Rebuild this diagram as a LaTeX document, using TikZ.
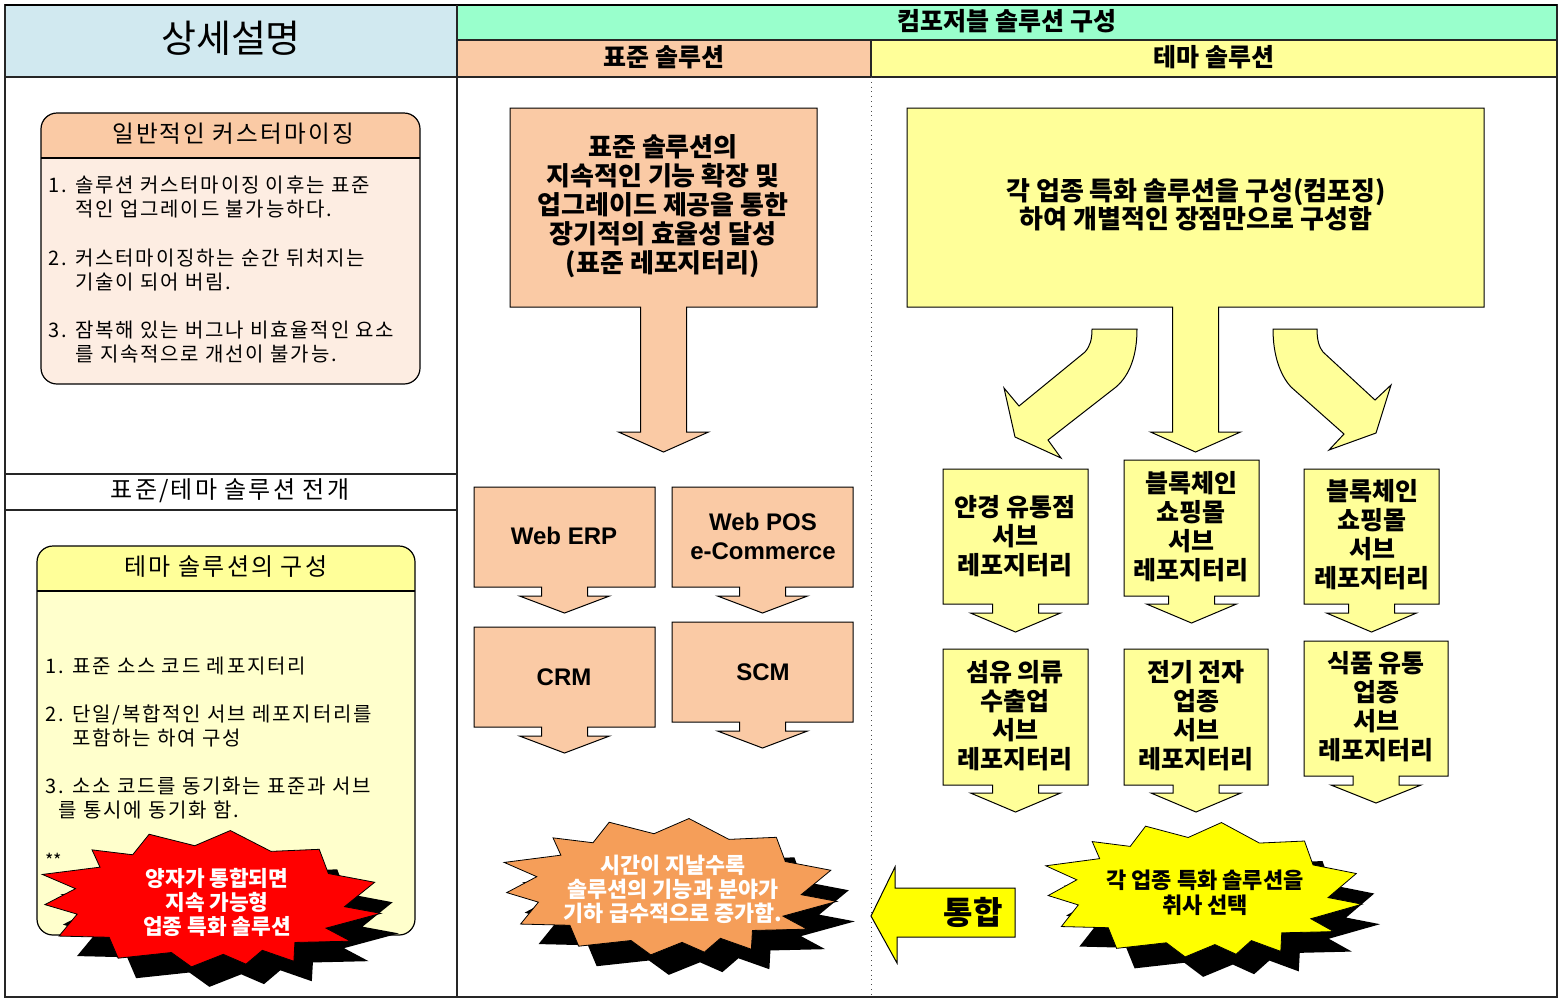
\documentclass[tikz,border=0pt]{standalone}
\usepackage{fontspec}
\setmainfont{Noto Sans CJK KR}
\newfontfamily\spacedfont[LetterSpace=9]{Noto Sans CJK KR}
\newfontfamily\arialfont{Liberation Sans}

\definecolor{hdrblue}{RGB}{209,233,240}
\definecolor{hdrgreen}{RGB}{153,255,204}
\definecolor{stdorange}{RGB}{250,202,165}
\definecolor{peach}{RGB}{253,237,226}
\definecolor{themeyellow}{RGB}{255,255,153}
\definecolor{paleyellow}{RGB}{255,255,204}
\definecolor{burstorange}{RGB}{245,158,89}
\definecolor{burstred}{RGB}{255,0,0}
\definecolor{burstyellow}{RGB}{255,255,0}

% box with a down arrow: [style]{left}{top}{right}{bottom}{head y}{tip y}
\newcommand\dncallout[7][]{%
  \pgfmathsetmacro\dncx{(#2+#4)/2}%
  \draw[#1] (#2,#3) -- (#4,#3) -- (#4,#5) -- ({\dncx+23},#5) -- ({\dncx+23},#6)
    -- ({\dncx+45},#6) -- (\dncx,#7) -- ({\dncx-45},#6) -- ({\dncx-23},#6)
    -- ({\dncx-23},#5) -- (#2,#5) -- cycle;}

% explosion outline in a 100 x 100 box (angle/radius)
\newcommand\burstpath[1]{%
  \path[#1] ({50+50*cos(83)},{50-50*sin(83)})
    \foreach \a/\r in {63/39, 49/48, 29/39, 15/49, -7/39, -11/50, -31/39, -36/50,
      -51/39, -61/50, -67/39, -77/47, -84/39, -96/48, -106/39, -122/49, -137/39,
      -149/50, -165/39, -176/47, 168/39, 159/51, 143/39, 133/49, 124/39, 110/50, 96/39}
    { -- ({50+\r*cos(\a)},{50-\r*sin(\a)}) } -- cycle;}

% explosion with shadow: {colour}{x0}{y0}{x1}{y1}
\newcommand\burst[5]{%
  \begin{scope}[shift={(#2+18,#3+20)}, xscale={(#4-#2)/100}, yscale={(#5-#3)/100}]
    \burstpath{fill=black}
  \end{scope}
  \begin{scope}[shift={(#2,#3)}, xscale={(#4-#2)/100}, yscale={(#5-#3)/100}]
    \burstpath{fill=#1, draw=black, line width=0.4pt}
  \end{scope}}

\begin{document}
\begin{tikzpicture}[x=0.5pt, y=-0.5pt,
    every node/.style={inner sep=0pt, align=center},
    frame/.style={draw=black!85, line width=0.6pt},
    hdr/.style={font=\fontsize{12.5}{14}\selectfont\bfseries},
    boxhead/.style={font=\spacedfont\fontsize{11.5}{14}\selectfont},
    item/.style={anchor=west, align=left, font=\spacedfont\fontsize{10}{12}\selectfont},
    boxtext/.style={font=\fontsize{12.5}{14.5}\selectfont\bfseries},
    engtext/.style={font=\arialfont\fontsize{12}{14.5}\selectfont\bfseries},
    bursttext/.style={font=\fontsize{10.7}{12}\selectfont\bfseries},
    stdarrow/.style={fill=stdorange, draw=black, line width=0.5pt},
    themearrow/.style={fill=themeyellow, draw=black, line width=0.5pt},
    mergearrow/.style={fill=burstyellow, draw=black, line width=0.5pt}]
  \useasboundingbox (0,0) rectangle (1561,1003);

  % header cells
  \fill[hdrblue] (5,5) rectangle (457,77);
  \fill[hdrgreen] (457,5) rectangle (1557,40);
  \fill[stdorange] (457,40) rectangle (871,77);
  \fill[themeyellow] (871,40) rectangle (1557,77);
  \draw[frame] (5,5) rectangle (1557,997);
  \draw[line width=1pt] (5,5) -- (1557,5);
  \draw[frame] (457,5) -- (457,997);
  \draw[frame] (457,40) -- (1557,40);
  \draw[frame] (5,77) -- (1557,77);
  \draw[frame] (871,40) -- (871,77);
  \draw[frame] (5,474) -- (457,474);
  \draw[frame] (5,510) -- (457,510);
  \draw[dotted, black!70] (871,77) -- (871,997);

  \node[font=\fontsize{19}{22}\selectfont] (detail) at (231,38) {상세설명};
  \node[hdr] (compose) at (1007,21) {컴포저블 솔루션 구성};
  \node[hdr] (stdhead) at (664,57) {표준 솔루션};
  \node[hdr] (themehead) at (1214,57) {테마 솔루션};
  \node[boxhead, font=\spacedfont\fontsize{12}{14}\selectfont] (deploy) at (230,491) {표준/테마 솔루션 전개};

  % general customizing box
  \begin{scope}
    \clip[rounded corners=8pt] (41,113) rectangle (420,384);
    \fill[peach] (41,113) rectangle (420,384);
    \fill[stdorange] (41,113) rectangle (420,158);
  \end{scope}
  \draw[line width=0.6pt, rounded corners=8pt] (41,113) rectangle (420,384);
  \draw[line width=0.6pt] (41,158) -- (420,158);
  \node[boxhead, font=\spacedfont\fontsize{11.8}{14}\selectfont] (customhead) at (233,134) {일반적인 커스터마이징};
  \node[item] (custom1) at (48,197) {1. 솔루션 커스터마이징 이후는 표준\\\hspace*{13.5pt}적인 업그레이드 불가능하다.};
  \node[item] (custom2) at (48,270) {2. 커스터마이징하는 순간 뒤처지는\\\hspace*{13.5pt}기술이 되어 버림.};
  \node[item] (custom3) at (48,342) {3. 잠복해 있는 버그나 비효율적인 요소\\\hspace*{13.5pt}를 지속적으로 개선이 불가능.};

  % theme composition box
  \begin{scope}
    \clip[rounded corners=8pt] (37,546) rectangle (415,935);
    \fill[paleyellow] (37,546) rectangle (415,935);
    \fill[themeyellow] (37,546) rectangle (415,591);
  \end{scope}
  \draw[line width=0.6pt, rounded corners=8pt] (37,546) rectangle (415,935);
  \draw[line width=0.6pt] (37,591) -- (415,591);
  \node[boxhead, font=\spacedfont\fontsize{12}{14}\selectfont] (themebox) at (226,567) {테마 솔루션의 구성};
  \node[item] (theme1) at (45,666) {1. 표준 소스 코드 레포지터리};
  \node[item] (theme2) at (45,726) {2. 단일/복합적인 서브 레포지터리를\\\hspace*{13.5pt}포함하는 하여 구성};
  \node[item] (theme3) at (45,798) {3. 소소 코드를 동기화는 표준과 서브\\\hspace*{6.5pt}를 통시에 동기화 함.};
  \node[item, font=\fontsize{9}{10}\selectfont] (note) at (45,860) {**};

  % standard solution
  \dncallout[stdarrow]{510}{108}{817}{307}{432}{452}
  \dncallout[stdarrow]{474}{487}{655}{587}{596}{613}
  \dncallout[stdarrow]{672}{487}{853}{587}{596}{613}
  \dncallout[stdarrow]{474}{627}{655}{727}{736}{753}
  \dncallout[stdarrow]{672}{622}{853}{722}{731}{748}
  \node[font=\fontsize{13}{14.5}\selectfont\bfseries] (stdtext) at (663,206)
    {표준 솔루션의\\지속적인 기능 확장 및\\업그레이드 제공을 통한\\장기적의 효율성 달성\\(표준 레포지터리)};
  \node[engtext] (erp) at (564,536) {Web ERP};
  \node[engtext] (pos) at (763,536) {Web POS\\e-Commerce};
  \node[engtext] (crm) at (564,677) {CRM};
  \node[engtext] (scm) at (763,672) {SCM};

  % theme solution
  \dncallout[themearrow]{907}{108}{1484}{307}{432}{452}
  \dncallout[themearrow]{943}{469}{1088}{604}{613}{632}
  \dncallout[themearrow]{1124}{460}{1259}{596}{604}{623}
  \dncallout[themearrow]{1304}{469}{1439}{604}{613}{632}
  \dncallout[themearrow]{943}{649}{1088}{785}{793}{812}
  \dncallout[themearrow]{1124}{649}{1268}{785}{793}{812}
  \dncallout[themearrow]{1304}{641}{1448}{776}{785}{803}
  \draw[themearrow] (1092,329) -- (1137,329) .. controls (1137,355) and (1130,375) .. (1116,387)
    -- (1048,440) -- (1061,458) -- (1015,437) -- (1004,388) -- (1019,406) -- (1085,352)
    .. controls (1090,346) and (1092,340) .. (1092,329) -- cycle;
  \draw[themearrow] (1273,329) -- (1317,329) .. controls (1317,340) and (1319,347) .. (1323,352)
    -- (1375,400) -- (1391,385) -- (1376,433) -- (1329,450) -- (1344,434) -- (1291,387)
    .. controls (1280,375) and (1273,355) .. (1273,329) -- cycle;
  \node[font=\fontsize{13}{14}\selectfont\bfseries] (themetext) at (1196,205)
    {각 업종 특화 솔루션을 구성(컴포징)\\하여 개별적인 장점만으로 구성함};
  \node[boxtext] (eyewear) at (1015,536) {얀경 유통점\\서브\\레포지터리};
  \node[boxtext] (chain1) at (1191,527) {블록체인\\쇼핑몰\\서브\\레포지터리};
  \node[boxtext] (chain2) at (1372,535) {블록체인\\쇼핑몰\\서브\\레포지터리};
  \node[boxtext] (textile) at (1015,716) {섬유 의류\\수출업\\서브\\레포지터리};
  \node[boxtext] (electro) at (1196,716) {전기 전자\\업종\\서브\\레포지터리};
  \node[boxtext] (food) at (1376,707) {식품 유통\\업종\\서브\\레포지터리};

  % bursts
  \burst{burstred}{34}{830}{384}{970}
  \burst{burstorange}{496}{818}{840}{958}
  \burst{burstyellow}{1038}{822}{1365}{960}
  \node[bursttext, text=white] (sustain) at (217,902) {양자가 통합되면\\지속 가능형\\업종 특화 솔루션};
  \node[bursttext, text=white, font=\fontsize{10.9}{12}\selectfont\bfseries] (growth) at (673,889)
    {시간이 지날수록\\솔루션의 기능과 분야가\\기하 급수적으로 증가함.};
  \node[bursttext, font=\fontsize{11}{12.5}\selectfont\bfseries] (select) at (1205,893) {각 업종 특화 솔루션을\\취사 선택};

  % merge arrow
  \draw[mergearrow] (1015,888) -- (1015,937) -- (897,937) -- (897,963) -- (871,916)
    -- (895,867) -- (895,888) -- cycle;
  \node[font=\fontsize{16}{18}\selectfont\bfseries] (merge) at (973,912) {통합};
\end{tikzpicture}
\end{document}
